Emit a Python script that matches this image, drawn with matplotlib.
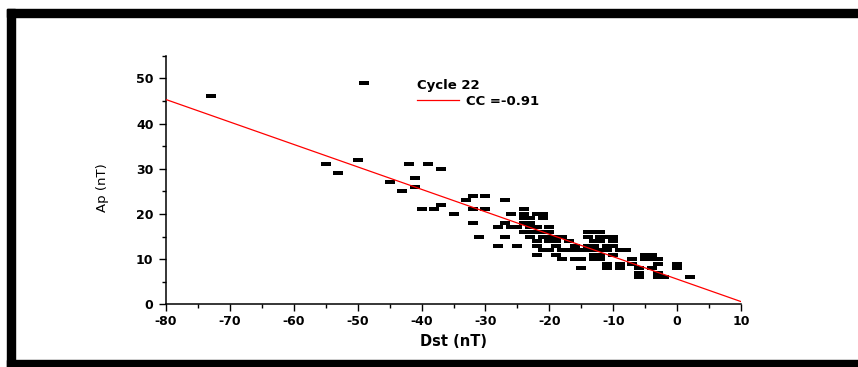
import matplotlib
matplotlib.use("Agg")
import matplotlib.pyplot as plt
from matplotlib.patches import Rectangle
import numpy as np

plt.rcParams["axes.unicode_minus"] = False

# ---- data ----
dst = [-73, -49, -55, -53, -50, -45, -43, -42, -41, -41, -40, -39, -38, -37,
       -37, -35, -33, -32, -32, -30, -30, -32, -31, -27, -26, -28, -28, -27, -27,
       -25, -24, -24, -22, -21, -23, -24, -25, -24, -23, -22, -22, -20, -21, -19,
       -19, -20, -22, -21, -18, -19, -18, -16, -15, -15, -17, -14, -13, -14, -13,
       -12, -11, -10, -14, -12, -11, -13, -12, -11, -11, -9, -8, -9, -7, -7, -6,
       -6, -6, -5, -4, -3, -3, -4, -3, -3, -2, 0, 0, 2,
       -23, -22, -23, -21, -20, -18, -17, -16, -19, -14, -15, -13, -10, -13, -10,
       -23, -21, -20, -16, -9, -4, -5, -24, -26,
       -21, -22, -20, -12, -12, -10, -11, -13, -12]
ap = [46, 49, 31, 29, 32, 27, 25, 31, 28, 26, 21, 31, 21, 30,
      22, 20, 23, 24, 21, 24, 21, 18, 15, 23, 20, 17, 13, 18, 15,
      13, 21, 20, 20, 20, 19, 18, 17, 16, 15, 14, 13, 16, 15, 15,
      14, 12, 11, 12, 12, 11, 10, 10, 10, 8, 12, 16, 16, 15, 14,
      14, 15, 15, 13, 12, 13, 11, 10, 9, 8, 12, 12, 8, 9, 10, 8,
      7, 6, 11, 11, 10, 9, 8, 7, 6, 6, 9, 8, 6,
      17, 16, 16, 16, 14, 15, 14, 12, 13, 12, 12, 13, 11, 10, 13,
      18, 19, 15, 13, 9, 10, 10, 19, 17,
      19, 17, 17, 15, 16, 14, 12, 12, 11]

fit_x = [-80, 10]
fit_y = [45.3, 0.6]

legend_title = "Cycle 22"
legend_label = "CC =-0.91"
xlabel = "Dst (nT)"
ylabel = "Ap (nT)"

W, H = 858, 367
fig = plt.figure(figsize=(W / 100, H / 100), dpi=100)
fig.patch.set_facecolor("white")

# frame bars
bar = dict(color="black", transform=fig.transFigure, zorder=10)
fig.patches.append(Rectangle((7 / W, 1 - 17 / H), 1 - 7 / W, 8 / H, **bar))
fig.patches.append(Rectangle((7 / W, 0), 8 / W, 1 - 9 / H, **bar))
fig.patches.append(Rectangle((7 / W, 0), 1 - 7 / W, 7 / H, **bar))

ax = fig.add_axes([166 / W, 1 - 304.3 / H, (741 - 166) / W, (304.3 - 55.7) / H])

rect = [(-1, -0.5), (1, -0.5), (1, 0.5), (-1, 0.5)]
ax.plot(dst, ap, linestyle="none", marker=rect, markersize=6.8,
        color="black", markeredgewidth=0, zorder=3)
line, = ax.plot(fit_x, fit_y, color="red", linewidth=0.9, zorder=4)

ax.set_xlim(-80, 10)
ax.set_ylim(0, 55)
ax.set_xticks(np.arange(-80, 11, 10))
ax.set_xticks(np.arange(-75, 10, 10), minor=True)
ax.set_yticks(np.arange(0, 51, 10))
ax.set_yticks(np.arange(5, 56, 10), minor=True)

for s in ["top", "right"]:
    ax.spines[s].set_visible(False)
for s in ["left", "bottom"]:
    ax.spines[s].set_linewidth(1.1)

ax.tick_params(which="major", direction="out", length=5, width=1.0,
               pad=3, labelsize=9)
ax.tick_params(axis="y", which="major", pad=4)
ax.tick_params(which="minor", direction="out", length=3, width=1.0)
for lab in ax.get_xticklabels() + ax.get_yticklabels():
    lab.set_fontweight("bold")
    lab.set_family("DejaVu Sans")

ax.set_xlabel(xlabel, fontsize=10.5, fontweight="bold", family="DejaVu Sans", labelpad=4)
ax.set_ylabel(ylabel, fontsize=9.5, family="DejaVu Sans")
ax.yaxis.set_label_coords((109 - 166) / (741 - 166), (304.3 - 188) / (304.3 - 55.7))

leg = ax.legend([line], [legend_label], title=legend_title, loc="upper left",
                bbox_to_anchor=((417 - 166) / (741 - 166), (304.3 - 79) / (304.3 - 55.7)),
                frameon=False,
                prop={"weight": "bold", "size": 9.5, "family": "DejaVu Sans"},
                title_fontproperties={"weight": "bold", "size": 9.5, "family": "DejaVu Sans"},
                handlelength=3.2, handletextpad=0.5, borderaxespad=0, labelspacing=0.2,
                borderpad=0)
leg._legend_box.align = "left"

fig.savefig("out.png", dpi=100)
